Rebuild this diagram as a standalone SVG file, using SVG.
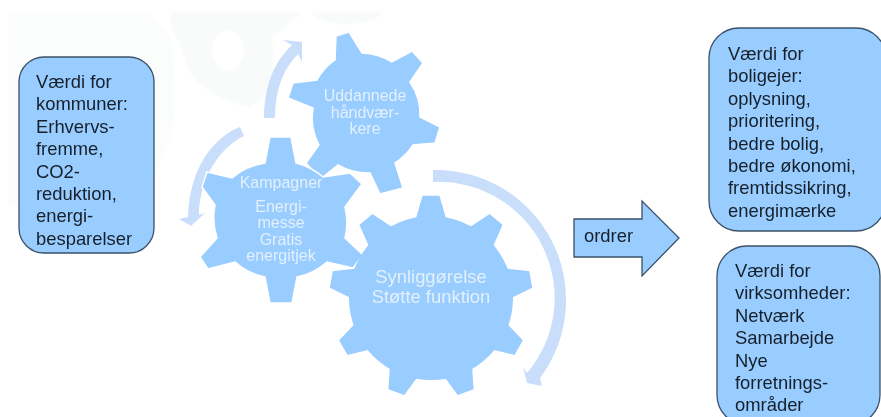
<svg xmlns="http://www.w3.org/2000/svg" width="881" height="417" viewBox="0 0 881 417">
<defs>
<style>
.box{fill:#99ccff;stroke:#3b5268;stroke-width:1.3}
.gear{fill:#99ccff}
.edge{stroke:#fff;stroke-width:1.5}
.flow{fill:#c9defb}
.t{font-family:"Liberation Sans",Arial,sans-serif;font-size:18.4px;fill:#15202b}
.g{font-family:"Liberation Sans",Arial,sans-serif;fill:#e3f0fd;text-anchor:middle}
</style>
<polygon id="t9" points="-16,-78 -9,-102 9,-102 16,-78"/>
<filter id="soft" x="-5%" y="-5%" width="110%" height="110%"><feGaussianBlur stdDeviation="1.5"/></filter>
</defs>
<rect width="881" height="417" fill="#fff"/>
<g id="background" fill="#f8fbfa" filter="url(#soft)">
<path d="M8,12H150L172,40C176,80 178,110 170,140L140,210L8,205Z" opacity=".5"/>
<path d="M170,27L180,43C184,62 192,78 203,87C216,97 232,103 250,107C262,100 272,90 273,77C274,60 272,50 272,37L303,12H170Z"/>
<path d="M310,12H385C378,20 360,24 345,24C330,24 318,20 310,12Z"/>
<ellipse cx="228" cy="50" rx="16" ry="20" fill="#fff"/>
</g>
<g id="connectors">
<path class="flow" d="M433,170A130,130 0 0 1 540,378L542,386L527,383L523,367L527,373A116,116 0 0 0 433,182Z"/>
<path class="flow" d="M240,127C215,137 190,165 188,217L179,219L191,226L205,213L199,215C199,185 215,150 244,136Z"/>
<path class="flow" d="M264,118C264,86 274,62 292,45L283,40L302,42L302,62L298,54C283,69 275,90 275,118Z"/>
</g>
<g id="gear-uddannede" class="gear">
<path class="edge" d="M336,36L349,32L362,53A60,60 0 0 1 392,62L412,51L423,63L410,82A58,58 0 0 1 420,117L440,127L435,143L413,145A58,58 0 0 1 395,163L403,188L380,194L370,173A60,60 0 0 1 338,165L323,177L317,175L306,163L319,145A58,58 0 0 1 313,108L288,98L293,83L317,80A58,58 0 0 1 335,60Z"/>
<g class="g" font-size="16">
<text x="365" y="101">Uddannede</text>
<text x="365" y="118">håndvær-</text>
<text x="365" y="134">kere</text>
</g>
</g>
<g id="gear-kampagner" class="gear">
<path class="edge" d="M270,137L291,137L296,163A65,65 0 0 1 323,177L350,173L362,184L345,207A65,65 0 0 1 345,238L363,255L353,268L327,262A65,65 0 0 1 297,277L292,303L270,303L265,277A65,65 0 0 1 235,262L208,269L200,257L217,238A65,65 0 0 1 215,205L202,187L207,172L232,178A65,65 0 0 1 265,163Z"/>
<g class="g" font-size="16">
<text x="281" y="188">Kampagner</text>
<text x="281" y="212">Energi-</text>
<text x="281" y="228">messe</text>
<text x="281" y="245">Gratis</text>
<text x="281" y="261">energitjek</text>
</g>
</g>
<g id="gear-synliggorelse" class="gear">
<g class="edge" transform="translate(431,297)">
<use href="#t9"/>
<use href="#t9" transform="rotate(40)"/>
<use href="#t9" transform="rotate(80)"/>
<use href="#t9" transform="rotate(120)"/>
<use href="#t9" transform="rotate(160)"/>
<use href="#t9" transform="rotate(200)"/>
<use href="#t9" transform="rotate(240)"/>
<use href="#t9" transform="rotate(280)"/>
<use href="#t9" transform="rotate(320)"/>
</g>
<circle cx="431" cy="298" r="82"/>
<g class="g" font-size="18.4">
<text x="431" y="283">Synliggørelse</text>
<text x="431" y="303">Støtte funktion</text>
</g>
</g>
<g id="box-kommuner">
<rect class="box" x="19" y="57" width="135" height="196" rx="25"/>
<text class="t"><tspan x="36" y="88">Værdi for</tspan><tspan x="36" y="110.400">kommuner:</tspan><tspan x="36" y="132.800">Erhvervs-</tspan><tspan x="36" y="155.200">fremme,</tspan><tspan x="36" y="177.600">CO2-</tspan><tspan x="36" y="200">reduktion,</tspan><tspan x="36" y="222.400">energi-</tspan><tspan x="36" y="244.800">besparelser</tspan></text>
</g>
<g id="arrow-ordrer">
<polygon class="box" points="574,219 642,219 642,201 679,238 642,276 642,257 574,257"/>
<text class="t" x="584" y="242">ordrer</text>
</g>
<g id="box-boligejer">
<rect class="box" x="709" y="28" width="177" height="203" rx="30"/>
<text class="t"><tspan x="728" y="60">Værdi for</tspan><tspan x="728" y="82.400">boligejer:</tspan><tspan x="728" y="104.800">oplysning,</tspan><tspan x="728" y="127.200">prioritering,</tspan><tspan x="728" y="149.600">bedre bolig,</tspan><tspan x="728" y="172">bedre økonomi,</tspan><tspan x="728" y="194.400">fremtidssikring,</tspan><tspan x="728" y="216.800">energimærke</tspan></text>
</g>
<g id="box-virksomheder">
<rect class="box" x="717" y="246" width="163" height="179" rx="30"/>
<text class="t"><tspan x="735" y="277">Værdi for</tspan><tspan x="735" y="299.400">virksomheder:</tspan><tspan x="735" y="321.800">Netværk</tspan><tspan x="735" y="344.200">Samarbejde</tspan><tspan x="735" y="366.600">Nye</tspan><tspan x="735" y="389">forretnings-</tspan><tspan x="735" y="411.400">områder</tspan></text>
</g>
</svg>
